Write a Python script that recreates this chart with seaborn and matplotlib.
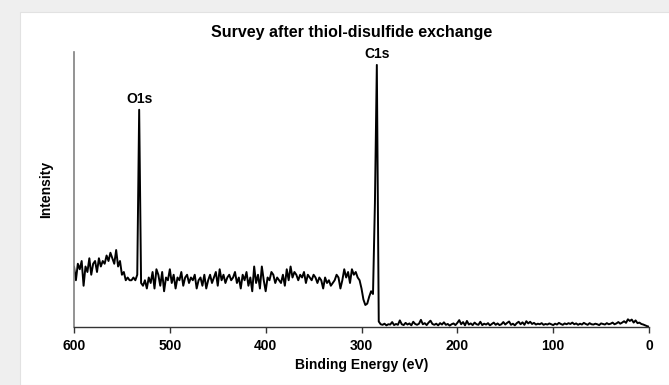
import numpy as np
import pandas as pd
import matplotlib
matplotlib.use("Agg")
import matplotlib.pyplot as plt
import seaborn as sns
from matplotlib.patches import Rectangle

# XPS survey spectrum, binding energy (eV) on a 2 eV grid from 600 down to 0
binding_energy = np.arange(600, -1, -2)

# Counts (arbitrary units, 0 = baseline of the axis)
intensity = [
    # 600 .. 540
    22, 17, 23, 21, 24, 15, 22, 20, 25, 19,
    23, 24, 20, 25, 22, 24, 23, 26, 24, 27,
    25, 23, 28, 22, 24, 19, 20, 17, 18, 17,
    17,
    # 538 .. 500  (O1s)
    18, 17, 19, 79, 16, 15, 17, 14, 18, 16,
    20, 14, 21, 19, 15, 20, 13, 18, 17, 21,
    # 498 .. 302
    16, 19, 14, 18, 17, 20, 15, 18, 19, 16,
    18, 17, 19, 14, 17, 18, 15, 19, 14, 17,
    19, 16, 18, 20, 15, 21, 17, 19, 16, 18,
    19, 17, 18, 20, 16, 18, 14, 19, 17, 20,
    15, 18, 13, 22, 16, 19, 14, 22, 17, 13,
    18, 17, 20, 19, 16, 18, 17, 16, 19, 15,
    21, 17, 22, 18, 20, 19, 17, 19, 18, 20,
    16, 19, 18, 17, 19, 18, 16, 18, 17, 14,
    18, 16, 17, 15, 16, 17, 19, 18, 14, 17,
    21, 18, 20, 16, 21, 19, 20, 18, 17,
    # 300 .. 280  (C1s)
    14, 10, 8, 8.5, 11, 13, 12, 45, 95.3, 2, 1,
    # 278 .. 80
    0.8, 1.2, 0.6, 1.0, 0.9, 1.8, 0.7, 1.1, 0.8, 2.4,
    1.0, 0.7, 1.5, 0.9, 1.3, 0.6, 1.9, 1.1, 0.8, 1.2,
    2.6, 1.0, 1.4, 0.7, 1.6, 2.3, 1.1, 0.8, 1.2, 0.6,
    1.4, 0.9, 1.7, 0.8, 1.1, 0.5, 1.0, 1.3, 0.7, 1.5,
    2.5, 1.0, 1.8, 0.6, 2.2, 0.9, 1.3, 0.7, 1.6, 1.0,
    0.8, 1.9, 0.7, 1.2, 0.9, 1.4, 0.6, 1.1, 1.6, 0.8,
    1.3, 0.7, 1.0, 1.8, 0.9, 1.5, 2.0, 0.8, 1.2, 0.6,
    1.4, 1.9, 1.0, 1.7, 0.8, 2.1, 1.3, 1.9, 1.1, 1.5,
    0.9, 1.2, 1.0, 1.4, 0.8, 1.1, 0.9, 1.3, 1.0, 0.7,
    1.2, 0.9, 1.5, 1.1, 0.8, 1.3, 1.0, 1.4, 1.1, 1.6,
    # 78 .. 0
    1.0, 1.3, 0.8, 1.2, 0.9, 1.5, 1.1, 0.8, 1.4, 1.0,
    0.9, 1.2, 1.0, 0.7, 1.3, 1.1, 0.9, 1.4, 1.0, 1.2,
    1.6, 1.0, 1.3, 1.8, 1.2, 1.6, 2.1, 1.5, 2.8, 2.2,
    2.7, 1.6, 2.4, 1.4, 1.6, 1.1, 0.9, 0.6, 0.3, 0.1,
]

peak_labels = ["O1s", "C1s"]
peak_energies = [532, 284]
peak_heights = [79, 95.3]

xticks = [600, 500, 400, 300, 200, 100, 0]

df = pd.DataFrame({"Binding Energy (eV)": binding_energy, "Intensity": intensity})

sns.set_theme(style="white")
plt.rcParams["font.family"] = ["Liberation Sans", "DejaVu Sans"]
plt.rcParams["text.color"] = "black"
plt.rcParams["axes.labelcolor"] = "black"
plt.rcParams["xtick.color"] = "black"

fig = plt.figure(figsize=(6.69, 3.85), dpi=100)
fig.patch.set_facecolor("#efefef")
fig.patches.append(Rectangle((20 / 669, 0), 1.0, 373 / 385, transform=fig.transFigure,
                             facecolor="white", edgecolor="#e2e2e2", linewidth=0.8,
                             zorder=-10))

ax = fig.add_axes([74 / 669, 58 / 385, (649 - 74) / 669, (333 - 58) / 385])
ax.set_facecolor("none")
ax.set_zorder(5)

sns.lineplot(data=df, x="Binding Energy (eV)", y="Intensity", sort=False,
             color="black", linewidth=1.4, ax=ax)

ax.set_xlim(600, 0)
ax.set_ylim(0, 100)
ax.set_xticks(xticks)
ax.set_xticklabels([str(t) for t in xticks], fontsize=10, fontweight="bold")
ax.set_yticks([])

ax.tick_params(axis="x", direction="out", length=4, width=1, color="#333333",
               bottom=True, pad=4.5)
for side in ["top", "right"]:
    ax.spines[side].set_visible(False)
ax.spines["left"].set_color("#808080")
ax.spines["left"].set_linewidth(1.2)
ax.spines["bottom"].set_color("#333333")
ax.spines["bottom"].set_linewidth(1.0)

ax.set_xlabel("Binding Energy (eV)", fontsize=10, fontweight="bold", labelpad=3.5)
ax.set_ylabel("Intensity", fontsize=10, fontweight="bold", labelpad=15)
ax.set_title("Survey after thiol-disulfide exchange", fontsize=11.5,
             fontweight="bold", pad=11, x=0.483)

for lab, e, h in zip(peak_labels, peak_energies, peak_heights):
    ax.annotate(lab, xy=(e, h), xytext=(0, 3), textcoords="offset points",
                ha="center", va="bottom", fontsize=10, fontweight="bold")

fig.savefig("out.png", dpi=100, facecolor=fig.get_facecolor())
